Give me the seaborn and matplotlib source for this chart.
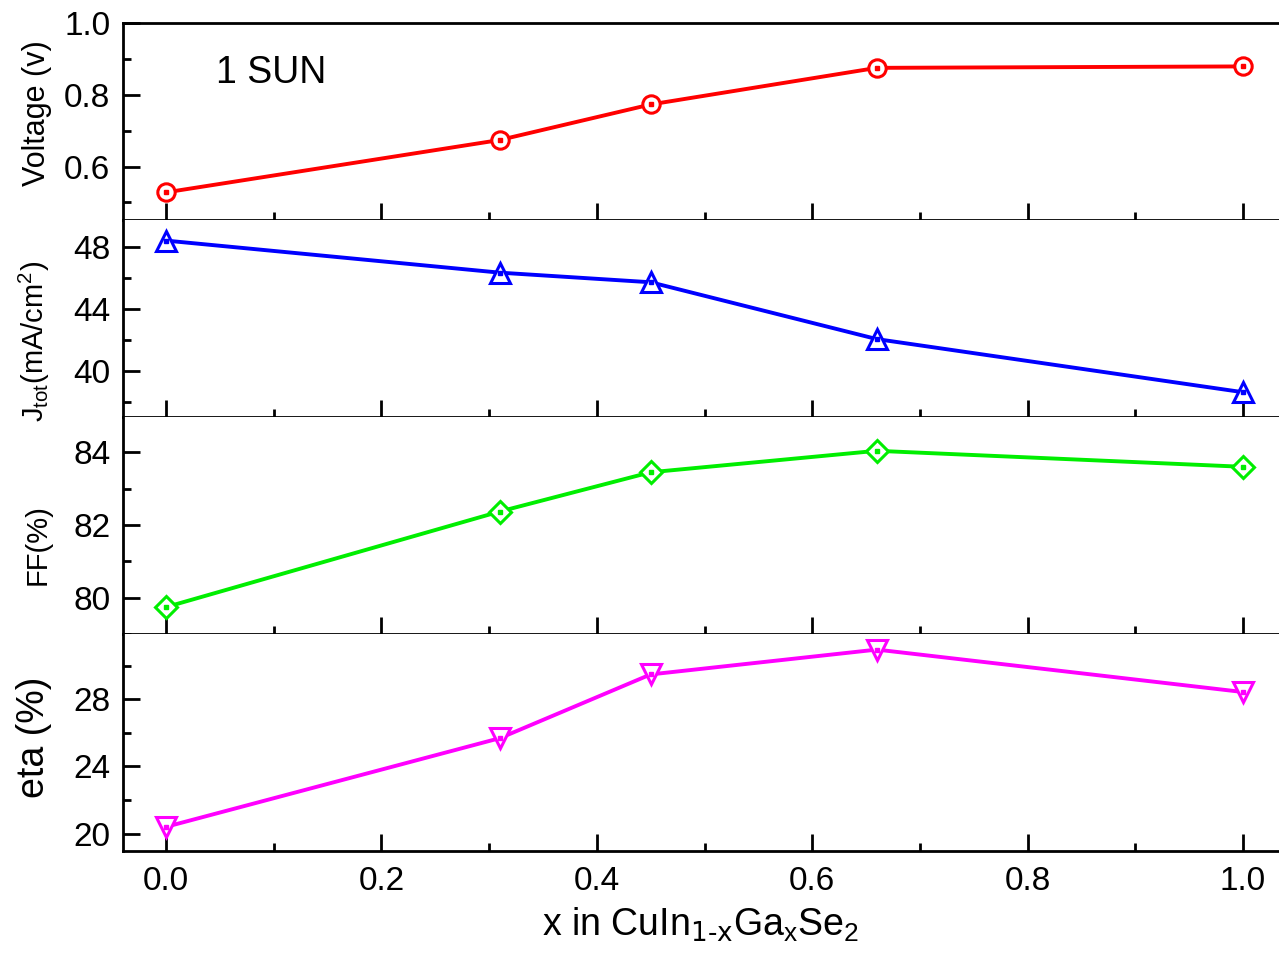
import numpy as np
import seaborn as sns
import matplotlib
matplotlib.use("Agg")
import matplotlib.pyplot as plt
from matplotlib.ticker import MultipleLocator, FormatStrFormatter

# Ga content
x_ga = [0.0, 0.31, 0.45, 0.66, 1.0]

# measured quantities at 1 sun
voc = [0.528, 0.674, 0.773, 0.875, 0.879]
jtot = [48.39, 46.32, 45.7, 42.03, 38.6]
ff = [79.74, 82.37, 83.45, 84.04, 83.60]
eta = [20.4, 25.69, 29.49, 30.97, 28.44]

ylabels = ["Voltage (v)",
           r"J$_{\mathregular{tot}}$(mA/cm$^{\mathregular{2}}$)",
           "FF(%)",
           "eta (%)"]

sns.set_theme(style="ticks")
plt.rcParams["font.family"] = ["Liberation Sans", "DejaVu Sans"]
plt.rcParams["mathtext.default"] = "regular"
plt.rcParams["axes.linewidth"] = 2.0
plt.rcParams["axes.edgecolor"] = "black"
plt.rcParams["text.color"] = "black"
plt.rcParams["axes.labelcolor"] = "black"
plt.rcParams["xtick.color"] = "black"
plt.rcParams["ytick.color"] = "black"

fig = plt.figure(figsize=(12.79, 9.69), dpi=100)

W, H = 1279.0, 969.0
left_px = 123
edges = [23, 220, 417, 634, 851]
x_at0, px_per_unit = 166.0, 1077.0

series = [voc, jtot, ff, eta]
colors = ["#ff0000", "#0000ff", "#00ee00", "#ff00ff"]
markers = ["o", "^", "D", "v"]
msizes = [12.5, 15, 11, 15]
ylims = [(0.451, 1.0), (37.0, 49.72), (79.0, 84.97), (18.96, 31.9)]
majors = [0.2, 4, 2, 4]
minors = [0.1, 2, 1, 2]
label_fs = [22, 21, 21, 27]
label_y = [0.543, 0.381, 0.41, 0.525]

xlim = ((left_px - x_at0) / px_per_unit, (W - x_at0) / px_per_unit)

axes = []
for i in range(4):
    top, bot = edges[i], edges[i + 1]
    ax = fig.add_axes([left_px / W, 1 - bot / H, 1 - left_px / W, (bot - top) / H])
    axes.append(ax)
    c = colors[i]
    sns.lineplot(x=x_ga, y=series[i], ax=ax, color=c, linewidth=2.8,
                 marker=markers[i], markersize=msizes[i],
                 markerfacecolor="white", markeredgecolor=c, markeredgewidth=2.2)
    # little dot in the middle of each symbol
    ax.plot(x_ga, series[i], ls="none", marker="s", ms=2.8, color=c)

    ax.set_xlim(*xlim)
    ax.set_ylim(*ylims[i])
    ax.yaxis.set_major_locator(MultipleLocator(majors[i]))
    ax.yaxis.set_minor_locator(MultipleLocator(minors[i]))
    ax.xaxis.set_major_locator(MultipleLocator(0.2))
    ax.xaxis.set_minor_locator(MultipleLocator(0.1))
    ax.tick_params(which="both", direction="in", width=2.0, labelsize=24,
                   right=False, top=False, pad=9)
    ax.tick_params(which="major", length=12)
    ax.tick_params(which="minor", length=6)
    ax.spines["right"].set_visible(False)
    if i > 0:
        ax.spines["top"].set_visible(False)
    if i < 3:
        ax.tick_params(axis="x", labelbottom=False)
    ax.set_ylabel(ylabels[i], fontsize=label_fs[i])
    ax.yaxis.set_label_coords((52 - left_px) / (W - left_px), label_y[i])
    ax.set_xlabel("")

axes[0].yaxis.set_major_formatter(FormatStrFormatter("%.1f"))
axes[0].text((216 - left_px) / (W - left_px), (220 - 73) / 197.0, "1 SUN",
             transform=axes[0].transAxes, fontsize=27, va="center", ha="left")

axes[3].tick_params(axis="x", pad=11)
axes[3].xaxis.set_major_formatter(FormatStrFormatter("%.1f"))
axes[3].set_xlabel(r"x in CuIn$_{\text{1-x}}$Ga$_x$Se$_2$", fontsize=27, labelpad=6)

fig.savefig("out.png", dpi=100)
